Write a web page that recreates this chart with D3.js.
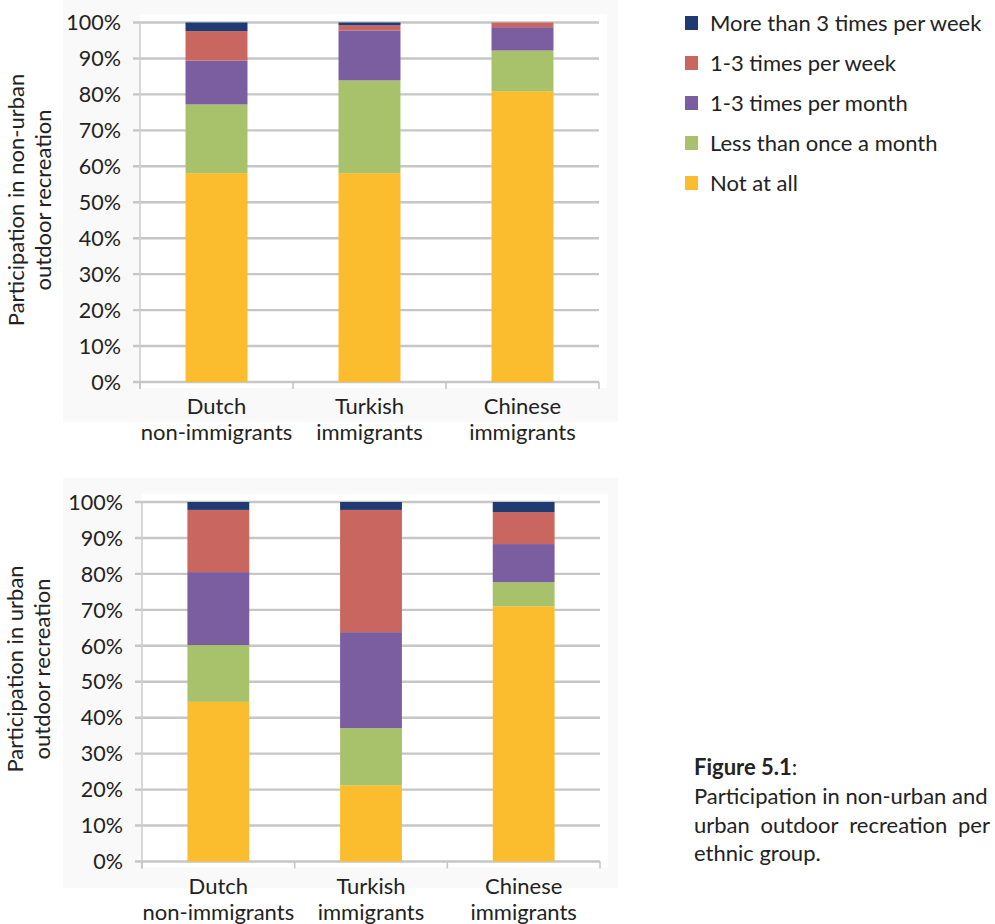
<!DOCTYPE html>
<html><head><meta charset="utf-8">
<script src="https://cdn.jsdelivr.net/npm/d3@7"></script>
<style>body{margin:0;background:#fff}svg{display:block}text{font-family:Lato,"Open Sans",sans-serif;fill:#222}</style>
</head><body><svg id="c" width="995" height="924"></svg>
<script>
const categories = [["Dutch","non-immigrants"],["Turkish","immigrants"],["Chinese","immigrants"]];
const seriesNames = ["More than 3 times per week","1-3 times per week","1-3 times per month","Less than once a month","Not at all"];
const seriesColors = ["#1f3b72","#c96660","#7b5ea0","#a8c26c","#fbbd2e"];
const yTicks = [0,10,20,30,40,50,60,70,80,90,100];
// non-urban (order: series above)
const nonUrbanMore3 = [2.4, 0.8, 0];
const nonUrbanWeek = [8.2, 1.4, 1.3];
const nonUrbanMonth = [12.2, 13.9, 6.5];
const nonUrbanLess = [19.1, 25.8, 11.3];
const nonUrbanNot = [58.1, 58.1, 80.9];
// urban
const urbanMore3 = [2.2, 2.2, 2.8];
const urbanWeek = [17.3, 34.0, 8.9];
const urbanMonth = [20.3, 26.7, 10.6];
const urbanLess = [15.8, 15.9, 6.7];
const urbanNot = [44.4, 21.2, 71.0];
const titleNonUrban = ["Participation in non-urban","outdoor recreation"];
const titleUrban = ["Participation in urban","outdoor recreation"];
const captionBold = "Figure 5.1";
const captionLines = ["Participation in non-urban and","urban outdoor recreation per","ethnic group."];

const svg = d3.select("#c");

function drawChart(seriesVals, title, box){
  const g = svg.append("g");
  g.append("rect").attr("x",box.bgX).attr("y",box.bgY).attr("width",box.bgW).attr("height",box.bgH).attr("fill","#f9f9f9");
  g.append("rect").attr("x",box.x0).attr("y",box.yTop-8).attr("width",box.x1-box.x0+8).attr("height",box.yBot-box.yTop+14).attr("fill","#fff");
  const x = d3.scaleBand().domain(d3.range(categories.length)).range([box.x0, box.x1]);
  const y = d3.scaleLinear().domain([0,100]).range([box.yBot, box.yTop]);
  g.selectAll("line.grid").data(yTicks).join("line")
    .attr("x1",box.x0-7).attr("x2",box.x1).attr("y1",d=>y(d)).attr("y2",d=>y(d))
    .attr("stroke","#c6c6c6").attr("stroke-width",2.4);
  g.append("line").attr("x1",box.x0).attr("x2",box.x0).attr("y1",box.yTop).attr("y2",box.yBot+7).attr("stroke","#cfcfcf").attr("stroke-width",1.6);
  const bounds = d3.range(categories.length+1).map(i=> i<categories.length ? x(i) : box.x1);
  g.selectAll("line.ct").data(bounds).join("line")
    .attr("x1",d=>d).attr("x2",d=>d).attr("y1",box.yBot).attr("y2",box.yBot+7).attr("stroke","#c6c6c6").attr("stroke-width",1.6);
  const order = [4,3,2,1,0];
  const bw = x.bandwidth()*0.405;
  categories.forEach((c,ci)=>{
    let acc = 0;
    order.forEach(si=>{
      const v = seriesVals[si][ci];
      if(v>0){
        g.append("rect").attr("x",x(ci)+x.bandwidth()/2-bw/2).attr("width",bw)
          .attr("y",y(acc+v)).attr("height",y(acc)-y(acc+v)).attr("fill",seriesColors[si]);
      }
      acc += v;
    });
  });
  g.selectAll("text.yt").data(yTicks).join("text")
    .attr("x",box.x0-19).attr("y",d=>y(d)).attr("dy","0.36em").attr("text-anchor","end")
    .style("font-size","21.5px").text(d=>d+"%");
  categories.forEach((c,ci)=>{
    const t = g.append("text").attr("text-anchor","middle").style("font-size","22px");
    c.forEach((s,li)=>t.append("tspan").attr("x",x(ci)+x.bandwidth()/2).attr("y",box.yBot+32+li*26).text(s));
  });
  title.forEach((s,li)=>{
    g.append("text").attr("transform",`translate(${box.titleX+li*27},${box.titleY}) rotate(-90)`)
      .attr("text-anchor","middle").style("font-size","22px").text(s);
  });
}

drawChart([nonUrbanMore3,nonUrbanWeek,nonUrbanMonth,nonUrbanLess,nonUrbanNot], titleNonUrban,
  {x0:140,x1:599,yTop:22.5,yBot:382,bgX:63,bgY:0,bgW:555,bgH:422,titleX:24,titleY:200});
drawChart([urbanMore3,urbanWeek,urbanMonth,urbanLess,urbanNot], titleUrban,
  {x0:142,x1:600,yTop:502,yBot:861.5,bgX:63,bgY:478,bgW:555,bgH:410,titleX:23,titleY:669});

const FS = "22px";
const lg = svg.append("g");
seriesNames.forEach((s,i)=>{
  lg.append("rect").attr("x",685).attr("y",16+i*40).attr("width",13).attr("height",14).attr("fill",seriesColors[i]);
  lg.append("text").attr("x",710).attr("y",31+i*40).style("font-size",FS).text(s);
});

const capX = 694, capR = 990;
const cb = svg.append("text").attr("x",capX).attr("y",775).style("font-size",FS);
cb.append("tspan").style("font-weight","bold").text(captionBold);
cb.append("tspan").text(":");
captionLines.forEach((line,li)=>{
  const yy = 804+li*28.5;
  if(li===1){
    const words = line.split(" ");
    const tmp = words.map(w=>svg.append("text").style("font-size",FS).text(w));
    const widths = tmp.map(t=>t.node().getComputedTextLength());
    tmp.forEach(t=>t.remove());
    const gap = (capR-capX-d3.sum(widths))/(words.length-1);
    let cx = capX;
    words.forEach((w,wi)=>{
      svg.append("text").attr("x",cx).attr("y",yy).style("font-size",FS).text(w);
      cx += widths[wi]+gap;
    });
  } else {
    svg.append("text").attr("x",capX).attr("y",yy).style("font-size",FS).text(line);
  }
});
</script></body></html>
